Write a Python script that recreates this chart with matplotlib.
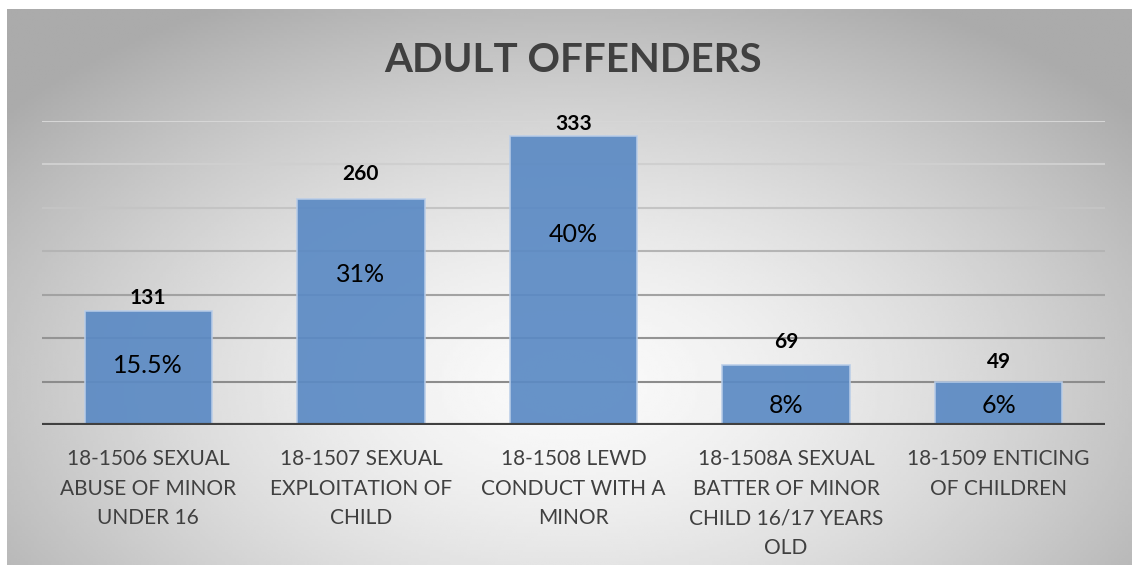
import numpy as np
import matplotlib.pyplot as plt

# data
categories = ["18-1506 SEXUAL\nABUSE OF MINOR\nUNDER 16",
              "18-1507 SEXUAL\nEXPLOITATION OF\nCHILD",
              "18-1508 LEWD\nCONDUCT WITH A\nMINOR",
              "18-1508A SEXUAL\nBATTER OF MINOR\nCHILD 16/17 YEARS\nOLD",
              "18-1509 ENTICING\nOF CHILDREN"]
counts = [131, 260, 333, 69, 49]
percents = ["15.5%", "31%", "40%", "8%", "6%"]
count_label_y = [146, 289, 347, 95, 72]  # where the count labels sit, in data units
pct_label_y = [69, 173, 219, 22, 22]     # where the % labels sit, in data units
yticks = [50, 100, 150, 200, 250, 300, 350]

plt.rcParams['font.family'] = ['Lato', 'DejaVu Sans']

fig = plt.figure(figsize=(11.32, 5.65), dpi=100)

# radial gray gradient background for the chart area
bg = fig.add_axes([7 / 1132, 0, 1 - 7 / 1132, 1 - 9 / 565])
gx, gy = np.meshgrid(np.linspace(-1, 1, 400), np.linspace(-1, 1, 200))
r = np.sqrt((gx / 1.0) ** 2 + ((gy - 0.35) / 1.2) ** 2)
shade = 0.98 - 0.21 * np.clip(r, 0, 1.3) ** 1.5
bg.imshow(shade, cmap='gray', vmin=0, vmax=1, aspect='auto', extent=[0, 1, 0, 1])
bg.set_axis_off()

ax = fig.add_axes([42 / 1132, 140 / 565, 1063 / 1132, 304 / 565])
ax.patch.set_alpha(0)
x = np.arange(len(categories))

# gridlines get darker toward the bottom
grid_colors = ['#8c8c8c', '#949494', '#a2a2a2', '#b4b4b4', '#c4c4c4', '#cfcfcf', '#d6d6d6']
for yv, c in zip(yticks, grid_colors):
    ax.axhline(yv, color=c, lw=1.5, zorder=1)

bars = ax.bar(x, counts, width=0.6, color='#5b8ac4', alpha=0.92,
              edgecolor='#b9cde8', linewidth=1.2, zorder=2)
ax.axhline(0, color='#404040', lw=3, zorder=3)

for b, c, cy, p, py in zip(bars, counts, count_label_y, percents, pct_label_y):
    cx = b.get_x() + b.get_width() / 2
    ax.text(cx, cy, str(c), ha='center', va='center', fontsize=15,
            fontweight='bold', color='black', zorder=4)
    ax.text(cx, py, p, ha='center', va='center', fontsize=18,
            color='black', zorder=4)

ax.set_xlim(-0.5, len(categories) - 0.5)
ax.set_ylim(0, 350)
ax.set_xticks(x)
ax.set_xticklabels(categories, fontsize=15, color='#404040', linespacing=1.62)
ax.tick_params(axis='x', length=0, pad=17)
ax.set_yticks([])
for s in ax.spines.values():
    s.set_visible(False)

fig.text(573 / 1132, 1 - 61 / 565, "ADULT OFFENDERS", ha='center', va='center',
         fontsize=29, fontweight='bold', color='#404040')

fig.savefig('out.png', dpi=100)
